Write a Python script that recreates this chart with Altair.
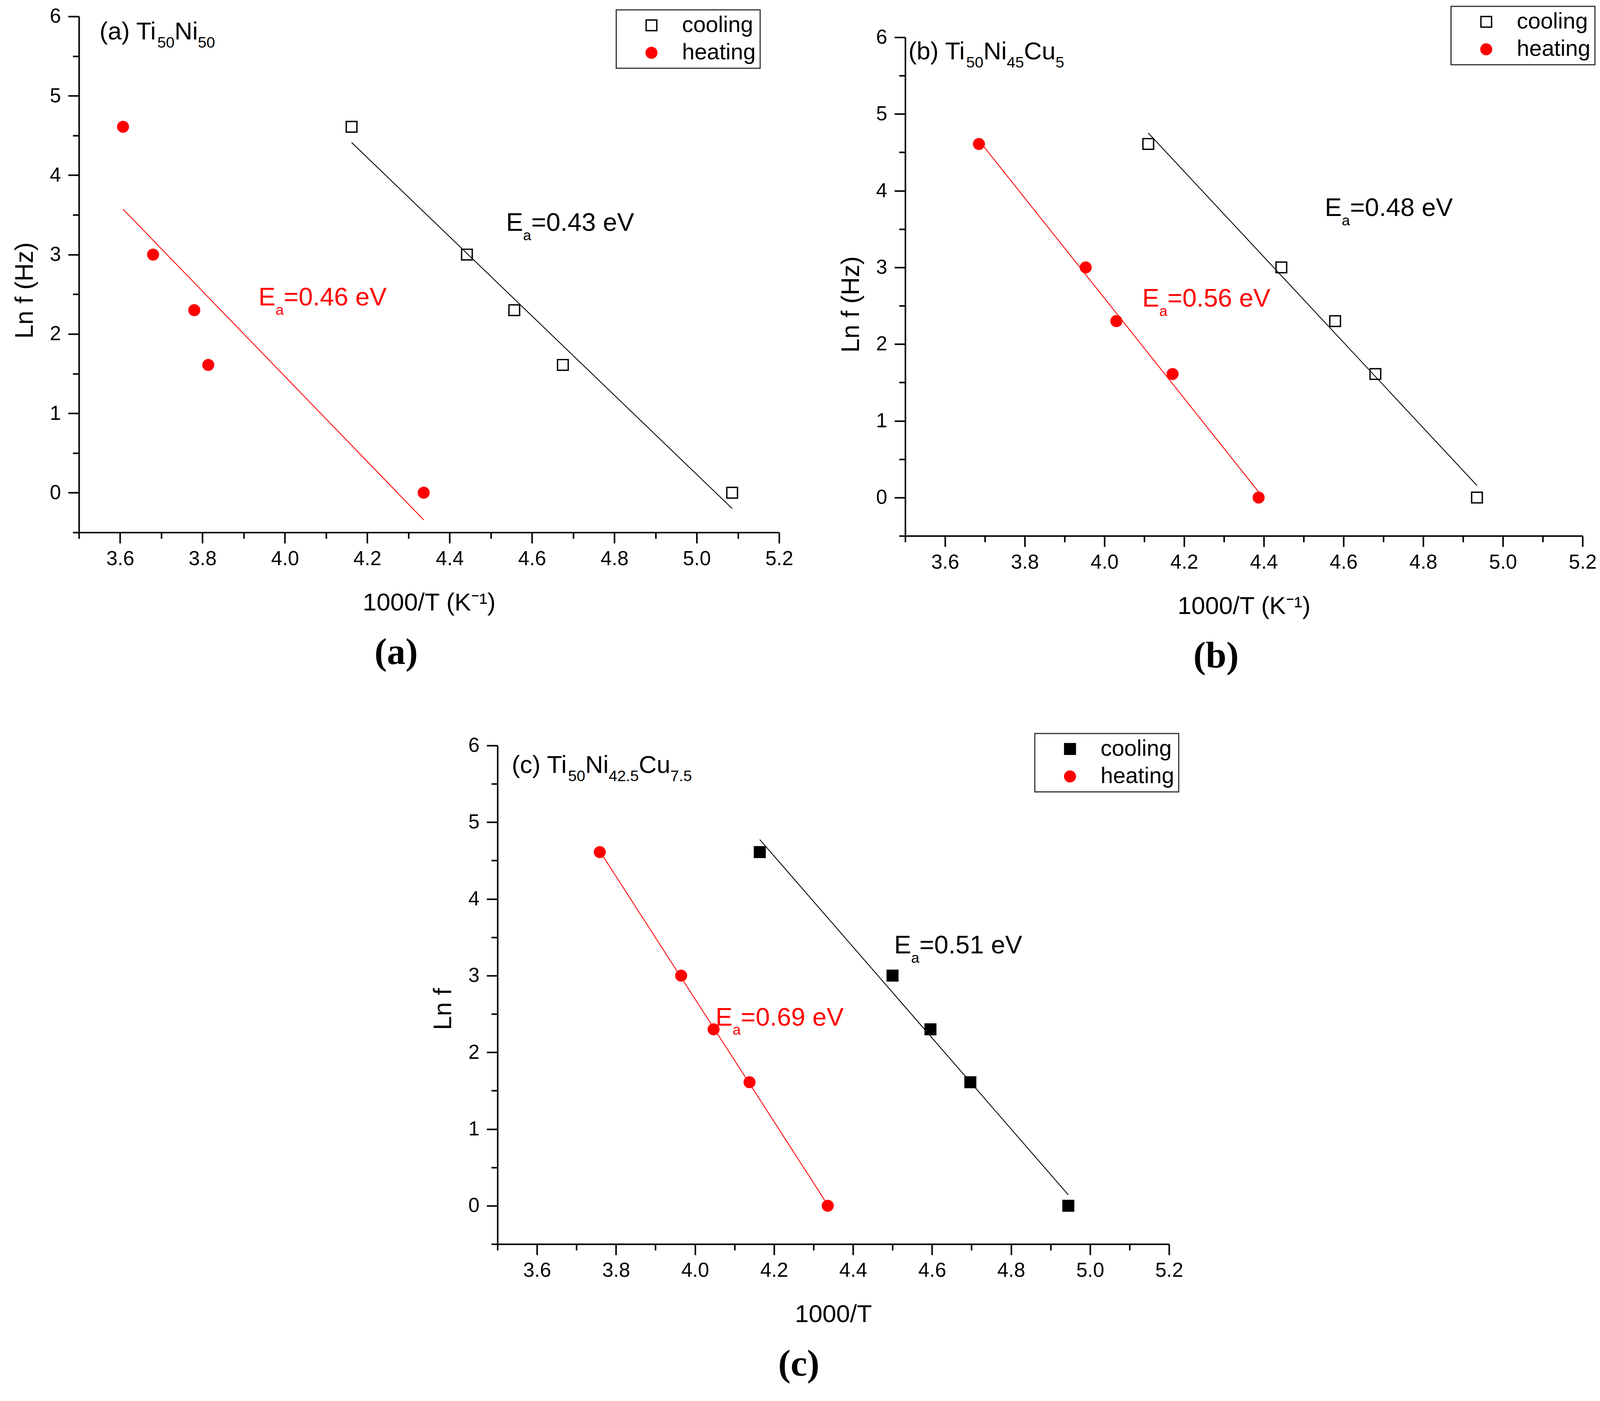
import altair as alt
import pandas as pd

# ---------------- data ----------------
SERIES = ["cooling", "heating"]
LN_F = [4.61, 3.00, 2.30, 1.61, 0.00]

A_COOL_X = [4.162, 4.442, 4.557, 4.675, 5.086]
A_HEAT_X = [3.607, 3.680, 3.780, 3.814, 4.337]
B_COOL_X = [4.110, 4.444, 4.579, 4.680, 4.935]
B_HEAT_X = [3.685, 3.953, 4.030, 4.171, 4.387]
C_COOL_X = [4.164, 4.500, 4.596, 4.697, 4.945]
C_HEAT_X = [3.759, 3.965, 4.047, 4.138, 4.336]

X_TICKS = [3.5, 3.6, 3.7, 3.8, 3.9, 4.0, 4.1, 4.2, 4.3, 4.4, 4.5,
           4.6, 4.7, 4.8, 4.9, 5.0, 5.1, 5.2]
Y_TICKS = [-0.5, 0.0, 0.5, 1.0, 1.5, 2.0, 2.5, 3.0, 3.5, 4.0, 4.5,
           5.0, 5.5, 6.0]

A_TITLE = [("(a) Ti", "n"), ("50", "s"), ("Ni", "n"), ("50", "s")]
B_TITLE = [("(b) Ti", "n"), ("50", "s"), ("Ni", "n"), ("45", "s"), ("Cu", "n"), ("5", "s")]
C_TITLE = [("(c) Ti", "n"), ("50", "s"), ("Ni", "n"), ("42.5", "s"), ("Cu", "n"), ("7.5", "s")]

A_EA = ["=0.43 eV", "=0.46 eV"]
B_EA = ["=0.48 eV", "=0.56 eV"]
C_EA = ["=0.51 eV", "=0.69 eV"]

# annotation anchors (data coordinates: 1000/T, Ln f)
A_TITLE_POS = (3.550, 5.71)
A_EA_POS = [(4.537, 3.30), (3.936, 2.36)]
B_TITLE_POS = (3.508, 5.71)
B_EA_POS = [(4.553, 3.67), (4.095, 2.49)]
C_TITLE_POS = (3.536, 5.64)
C_EA_POS = [(4.504, 3.29), (4.052, 2.35)]

RED = "#FF0000"
FONT = "Liberation Sans"

# Arial / Liberation Sans advance widths (per 1000 em)
W_ARIAL = {" ": 278, "(": 333, ")": 333, ".": 278, "=": 584, "E": 667,
           "T": 611, "N": 722, "C": 722, "V": 667, "a": 556, "b": 556,
           "c": 500, "e": 556, "i": 222, "u": 556}

CHANNELS = dict(fill="independent", stroke="independent", shape="independent")


def text_width(s, size):
    return sum(W_ARIAL.get(ch, 556) for ch in s) * size / 1000.0


def x_axis(title):
    return alt.Axis(
        values=X_TICKS, title=title, grid=False,
        labelExpr="round(datum.value*10) % 2 == 0 ? format(datum.value, '.1f') : ''",
        tickSize={"condition": {"test": "round(datum.value*10) % 2 == 0", "value": 28}, "value": 16},
        tickWidth=4, tickColor="black", domainWidth=4, domainColor="black",
        labelFontSize=52, labelFont=FONT, labelColor="black", labelPadding=15,
        titleFontSize=64, titleFont=FONT, titleFontWeight="normal", titleColor="black",
        titlePadding=56, labelOverlap=False, labelFlush=False, labelBound=False,
    )


def y_axis(title, title_y):
    return alt.Axis(
        values=Y_TICKS, title=title, grid=False,
        labelExpr="datum.value % 1 == 0 ? format(datum.value, 'd') : ''",
        tickSize={"condition": {"test": "datum.value % 1 == 0", "value": 28}, "value": 16},
        tickWidth=4, tickColor="black", domainWidth=4, domainColor="black",
        labelFontSize=52, labelFont=FONT, labelColor="black", labelPadding=19,
        titleFontSize=65, titleFont=FONT, titleFontWeight="normal", titleColor="black",
        titlePadding=30, titleY=title_y, labelOverlap=False, labelFlush=False, labelBound=False,
    )


def rich_text(pos, pieces, color, xenc, yenc, main=64, sub=39, sub_dy=22):
    layers = []
    dx = 0.0
    for txt, kind in pieces:
        fs = main if kind == "n" else sub
        dy = 0 if kind == "n" else sub_dy
        df = pd.DataFrame({"x": [pos[0]], "y": [pos[1]], "t": [txt]})
        layers.append(
            alt.Chart(df).mark_text(
                align="left", baseline="alphabetic", dx=dx, dy=dy,
                fontSize=fs, font=FONT, color=color,
            ).encode(x=xenc, y=yenc, text="t:N")
        )
        dx += text_width(txt, fs)
    return layers


def panel(cool_x, heat_x, cool_fill, w, h, x_title, y_title, title_y,
          lx, ly, title_pieces, title_pos, ea_texts, ea_pos, caption, cap_dx):
    xenc = alt.X("x:Q", scale=alt.Scale(domain=[3.5, 5.2], nice=False, zero=False),
                 axis=x_axis(x_title))
    yenc = alt.Y("y:Q", scale=alt.Scale(domain=[-0.5, 6.0], nice=False, zero=False),
                 axis=y_axis(y_title, title_y))
    df = pd.DataFrame({
        "x": list(cool_x) + list(heat_x),
        "y": LN_F + LN_F,
        "series": ["cooling"] * len(cool_x) + ["heating"] * len(heat_x),
    })
    leg = alt.Legend(
        title=None, orient="none", legendX=lx, legendY=ly, direction="vertical",
        padding=11, rowPadding=13, symbolOffset=51, labelOffset=50,
        symbolSize=760, symbolStrokeWidth=3.5,
        labelFontSize=58, labelFont=FONT, labelColor="black", labelLimit=0,
        strokeColor="#333333", fillColor="white",
    )
    layers = []
    for s, col in [("heating", RED), ("cooling", "black")]:
        layers.append(
            alt.Chart(df).transform_filter(alt.datum.series == s)
            .transform_regression("x", "y")
            .mark_line(color=col, strokeWidth=2.2)
            .encode(x=xenc, y=yenc)
        )
    layers.append(
        alt.Chart(df).mark_point(filled=True, size=760, strokeWidth=3.5, opacity=1).encode(
            x=xenc, y=yenc,
            shape=alt.Shape("series:N", scale=alt.Scale(domain=SERIES, range=["square", "circle"]), legend=leg),
            fill=alt.Fill("series:N", scale=alt.Scale(domain=SERIES, range=[cool_fill, RED]), legend=leg),
            stroke=alt.Stroke("series:N", scale=alt.Scale(domain=SERIES, range=["black", RED]), legend=leg),
        )
    )
    layers += rich_text(title_pos, title_pieces, "black", xenc, yenc, main=64, sub=40, sub_dy=21)
    layers += rich_text(ea_pos[0], [("E", "n"), ("a", "s"), (ea_texts[0], "n")], "black", xenc, yenc,
                        main=66, sub=38, sub_dy=24)
    layers += rich_text(ea_pos[1], [("E", "n"), ("a", "s"), (ea_texts[1], "n")], RED, xenc, yenc,
                        main=66, sub=38, sub_dy=24)
    return alt.layer(*layers).properties(
        width=w, height=h,
        title=alt.TitleParams(caption, orient="bottom", anchor="middle", frame="group", dx=cap_dx,
                              font="Liberation Serif", fontSize=96, fontWeight="bold",
                              color="black", offset=50),
    )


def spacer(w, h):
    return alt.Chart(pd.DataFrame({"t": [""]})).mark_text().encode(text="t:N").properties(width=w, height=h)


pa = panel(A_COOL_X, A_HEAT_X, "transparent", 1810, 1334, "1000/T (K⁻¹)", "Ln f (Hz)", 708,
           1389, -17, A_TITLE, A_TITLE_POS, A_EA, A_EA_POS, "(a)", -85)
pb = panel(B_COOL_X, B_HEAT_X, "transparent", 1751, 1289, "1000/T (K⁻¹)", "Ln f (Hz)", 690,
           1411, -80, B_TITLE, B_TITLE_POS, B_EA, B_EA_POS, "(b)", -72)
pc = panel(C_COOL_X, C_HEAT_X, "black", 1736, 1289, "1000/T", "Ln f", 681,
           1389, -31, C_TITLE, C_TITLE_POS, C_EA, C_EA_POS, "(c)", -89)

col_a = alt.vconcat(spacer(1, 1), pa, spacing=2).resolve_scale(**CHANNELS).resolve_legend(**CHANNELS)
col_b = alt.vconcat(spacer(1, 1), pb, spacing=0).resolve_scale(**CHANNELS).resolve_legend(**CHANNELS)

top = alt.hconcat(col_a, col_b, spacing=117).resolve_scale(**CHANNELS).resolve_legend(**CHANNELS)
bottom = alt.hconcat(spacer(910, 1), pc, spacing=0).resolve_scale(**CHANNELS).resolve_legend(**CHANNELS)

chart = (
    alt.vconcat(top, bottom, spacing=150)
    .resolve_scale(**CHANNELS).resolve_legend(**CHANNELS)
    .properties(padding={"left": 24, "top": -23, "right": 0, "bottom": 0}, background="white")
    .configure_view(stroke=None)
    .configure_legend(strokeWidth=3)
)

chart.save("out.html", embed_options={"renderer": "svg", "actions": False})
